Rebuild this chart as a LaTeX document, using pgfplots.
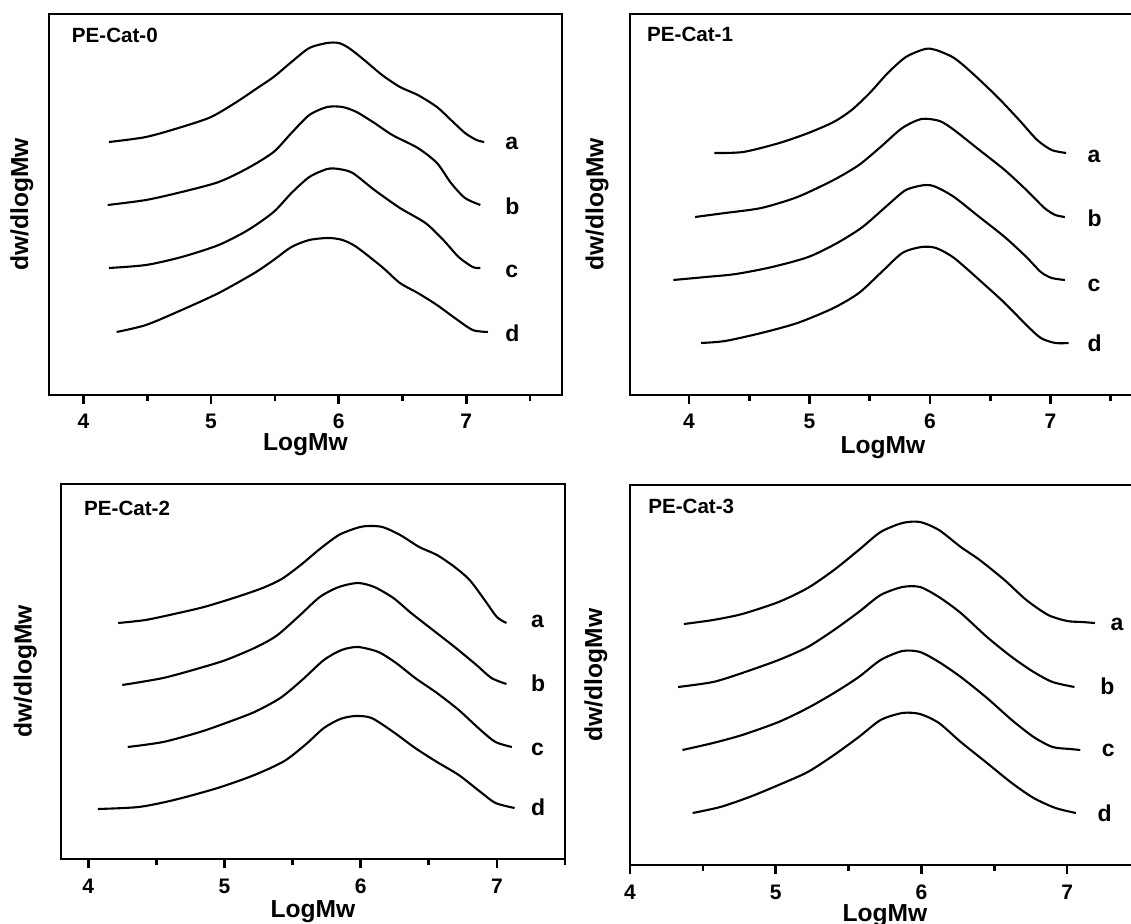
\documentclass[border=0pt]{standalone}
\usepackage{fontspec}
\setmainfont{Liberation Sans}
\usepackage{pgfplots}
\pgfplotsset{compat=1.18}

\pgfplotscreateplotcyclelist{gpclist}{black,line width=1.05pt,smooth,tension=0.45\\}

% common look of the four GPC panels
\pgfplotsset{
  gpc/.style={
    scale only axis,
    axis line style={line width=1.4pt},
    ytick=\empty,
    xtick={4,5,6,7},
    minor xtick={4.5,5.5,6.5,7.5},
    xtick pos=left,
    tick align=outside,
    major tick length=4.5pt,
    minor tick length=3pt,
    every tick/.style={black,line width=1.3pt},
    /pgf/number format/assume math mode=true,
    xticklabel style={font=\fontsize{10.5}{11}\selectfont\bfseries, anchor=base, yshift=-12.5pt},
    xlabel={LogMw},
    ylabel={dw/dlogMw},
    label style={font=\fontsize{12.3}{13}\selectfont\bfseries},
    ymin=0,
    clip=false,
    cycle list name=gpclist,
    no markers,
  },
}
\tikzset{
  lab/.style={anchor=base west, font=\fontsize{11.5}{12}\selectfont\bfseries},
  cat/.style={anchor=base west, font=\fontsize{10.3}{11}\selectfont\bfseries},
}

\begin{document}
\begin{tikzpicture}
\clip (0pt,0pt) rectangle (565.5pt,-462pt);

% ---- PE-Cat-0
\begin{axis}[gpc, at={(24.5pt,-7pt)}, anchor=north west,
  width=256.5pt, height=190.5pt, xmin=3.73, xmax=7.75, ymax=381,
  xlabel style={at={(rel axis cs:0.5,-0.146)}, anchor=base},
  ylabel style={at={(rel axis cs:-0.053,0.5)}, anchor=center}]
\addplot coordinates {(4.20,253) (4.49,258) (4.77,268) (5.00,278) (5.20,293) (5.34,305) (5.49,318) (5.63,333) (5.77,347) (5.91,352) (6.00,352) (6.08,347) (6.20,335) (6.34,320) (6.48,308) (6.62,300) (6.77,288) (6.88,275) (6.99,262) (7.08,255) (7.14,253)};
\addplot coordinates {(4.19,190) (4.49,195) (4.77,203) (5.06,213) (5.29,227) (5.49,243) (5.63,262) (5.77,280) (5.91,288) (6.03,288) (6.14,283) (6.28,272) (6.42,260) (6.62,247) (6.77,232) (6.88,212) (6.99,197) (7.11,190)};
\addplot coordinates {(4.20,127) (4.49,130) (4.77,138) (5.06,150) (5.29,165) (5.49,183) (5.63,202) (5.77,218) (5.91,226) (6.00,226) (6.11,222) (6.28,205) (6.48,187) (6.68,172) (6.82,155) (6.94,138) (7.05,128) (7.11,127)};
\addplot coordinates {(4.26,63) (4.49,70) (4.77,85) (5.06,102) (5.34,122) (5.49,135) (5.63,148) (5.77,155) (5.92,157) (6.03,155) (6.14,148) (6.34,128) (6.48,112) (6.62,102) (6.77,90) (6.91,77) (7.05,65) (7.17,63)};
\node[lab] at (axis cs:7.25,245) {a};
\node[lab] at (axis cs:7.25,180) {b};
\node[lab] at (axis cs:7.25,117) {c};
\node[lab] at (axis cs:7.25,53) {d};
\node[cat] at (rel axis cs:0.031,0.924) {PE-Cat-0};
\end{axis}

% ---- PE-Cat-1
\begin{axis}[gpc, at={(315pt,-7pt)}, anchor=north west,
  width=253pt, height=190.5pt, xmin=3.51, xmax=7.71, ymax=381,
  xlabel style={at={(rel axis cs:0.5,-0.154)}, anchor=base},
  ylabel style={at={(rel axis cs:-0.065,0.5)}, anchor=center}]
\addplot coordinates {(4.21,242) (4.45,243) (4.75,252) (4.99,262) (5.20,273) (5.35,285) (5.50,302) (5.65,322) (5.80,338) (5.96,346) (6.05,345) (6.20,337) (6.35,322) (6.56,298) (6.74,275) (6.89,255) (7.01,245) (7.13,242)};
\addplot coordinates {(4.05,178) (4.30,182) (4.60,187) (4.90,198) (5.20,215) (5.41,230) (5.59,248) (5.77,267) (5.93,276) (6.08,274) (6.20,265) (6.41,245) (6.62,225) (6.80,205) (6.95,187) (7.04,180) (7.12,178)};
\addplot coordinates {(3.87,115) (4.14,118) (4.39,121) (4.69,128) (4.99,138) (5.23,152) (5.44,168) (5.65,190) (5.80,205) (5.96,210) (6.05,208) (6.20,198) (6.41,178) (6.62,158) (6.80,138) (6.92,123) (7.01,117) (7.12,115)};
\addplot coordinates {(4.10,52) (4.30,54) (4.60,62) (4.90,72) (5.20,87) (5.41,102) (5.59,122) (5.77,142) (5.93,148) (6.05,147) (6.20,137) (6.41,115) (6.62,92) (6.80,70) (6.92,57) (7.04,52) (7.15,52)};
\node[lab] at (axis cs:7.25,232) {a};
\node[lab] at (axis cs:7.25,168) {b};
\node[lab] at (axis cs:7.25,103) {c};
\node[lab] at (axis cs:7.25,43) {d};
\node[cat] at (rel axis cs:0.020,0.927) {PE-Cat-1};
\end{axis}

% ---- PE-Cat-2
\begin{axis}[gpc, at={(30.5pt,-242pt)}, anchor=north west,
  width=252pt, height=187.5pt, xmin=3.80, xmax=7.50, ymax=375,
  xlabel style={at={(rel axis cs:0.5,-0.157)}, anchor=base},
  ylabel style={at={(rel axis cs:-0.071,0.5)}, anchor=center}]
\addplot coordinates {(4.22,236) (4.42,239) (4.63,245) (4.85,252) (5.09,262) (5.28,271) (5.42,280) (5.56,294) (5.70,310) (5.84,324) (5.97,331) (6.05,333) (6.16,332) (6.29,324) (6.43,312) (6.56,304) (6.69,292) (6.80,279) (6.91,259) (7.00,242) (7.07,236)};
\addplot coordinates {(4.25,174) (4.55,181) (4.82,191) (5.01,199) (5.22,211) (5.38,223) (5.54,242) (5.70,262) (5.84,272) (5.98,276) (6.10,272) (6.24,261) (6.37,246) (6.53,229) (6.69,212) (6.85,194) (6.96,181) (7.07,175)};
\addplot coordinates {(4.29,112) (4.55,117) (4.82,127) (5.01,136) (5.22,147) (5.41,161) (5.57,179) (5.73,199) (5.86,209) (5.98,212) (6.13,207) (6.26,196) (6.40,181) (6.56,166) (6.72,149) (6.88,129) (6.99,117) (7.11,112)};
\addplot coordinates {(4.07,50) (4.37,52) (4.63,59) (4.95,71) (5.22,84) (5.44,98) (5.60,115) (5.73,131) (5.85,140) (5.96,143) (6.08,141) (6.24,127) (6.40,111) (6.56,97) (6.72,84) (6.88,67) (6.99,56) (7.13,51)};
\node[lab] at (axis cs:7.20,231) {a};
\node[lab] at (axis cs:7.20,168) {b};
\node[lab] at (axis cs:7.20,104) {c};
\node[lab] at (axis cs:7.20,44) {d};
\node[cat] at (rel axis cs:0.032,0.917) {PE-Cat-2};
\end{axis}

% ---- PE-Cat-3
\begin{axis}[gpc, at={(315pt,-242.5pt)}, anchor=north west,
  width=255pt, height=190pt, xmin=4.0, xmax=7.50, ymax=380,
  xlabel style={at={(rel axis cs:0.5,-0.149)}, anchor=base},
  ylabel style={at={(rel axis cs:-0.067,0.5)}, anchor=center}]
\addplot coordinates {(4.37,241) (4.57,245) (4.77,251) (5.02,263) (5.22,277) (5.40,295) (5.57,315) (5.72,333) (5.87,342) (5.99,343) (6.12,335) (6.27,318) (6.40,305) (6.57,285) (6.72,265) (6.87,250) (7.00,244) (7.10,243) (7.19,242)};
\addplot coordinates {(4.33,178) (4.57,183) (4.77,192) (5.02,205) (5.22,218) (5.40,235) (5.57,253) (5.72,270) (5.87,278) (5.99,278) (6.12,268) (6.27,252) (6.45,228) (6.62,208) (6.77,193) (6.90,183) (7.05,178)};
\addplot coordinates {(4.36,115) (4.57,122) (4.77,130) (5.02,143) (5.22,157) (5.40,172) (5.57,188) (5.72,205) (5.87,214) (5.99,213) (6.12,203) (6.27,188) (6.45,167) (6.62,145) (6.77,128) (6.90,118) (7.02,116) (7.09,115)};
\addplot coordinates {(4.43,52) (4.62,58) (4.82,68) (5.02,80) (5.22,93) (5.40,110) (5.57,128) (5.72,145) (5.87,152) (5.99,151) (6.12,142) (6.27,123) (6.45,102) (6.62,82) (6.77,67) (6.92,57) (7.06,52)};
\node[lab] at (axis cs:7.25,234) {a};
\node[lab] at (axis cs:7.18,170) {b};
\node[lab] at (axis cs:7.19,108) {c};
\node[lab] at (axis cs:7.16,43) {d};
\node[cat] at (rel axis cs:0.022,0.926) {PE-Cat-3};
\end{axis}
\end{tikzpicture}
\end{document}
